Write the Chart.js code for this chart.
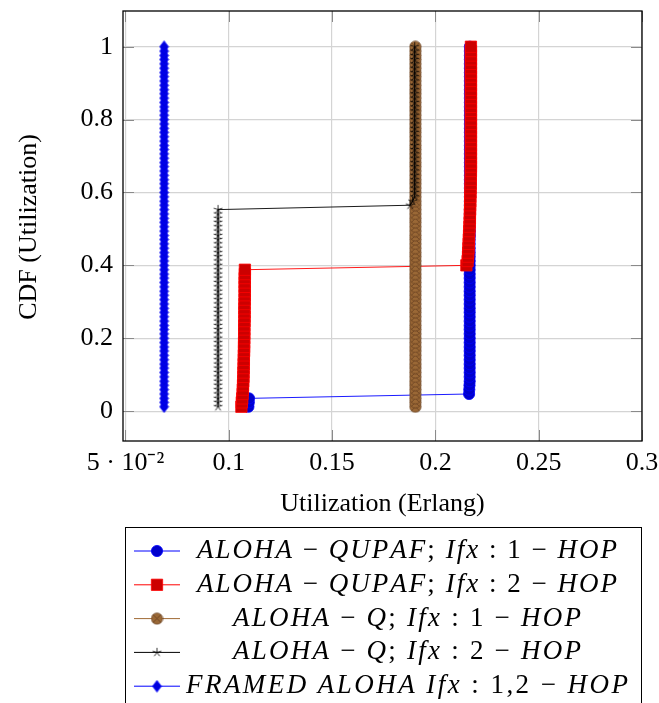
<!DOCTYPE html>
<html>
<head>
<meta charset="utf-8">
<script src="https://cdn.jsdelivr.net/npm/chart.js@4.4.1/dist/chart.umd.min.js"></script>
<style>
  html, body { margin: 0; padding: 0; background: #fff; }
</style>
</head>
<body>
<canvas id="cdfChart" width="659" height="703"></canvas>
<script>
// CDF levels shared by all series (85 samples)
const cdfLevels = [
  0.012, 0.024, 0.035, 0.047, 0.059, 0.071, 0.082, 0.094, 0.106, 0.118,
  0.129, 0.141, 0.153, 0.165, 0.176, 0.188, 0.200, 0.212, 0.224, 0.235,
  0.247, 0.259, 0.271, 0.282, 0.294, 0.306, 0.318, 0.329, 0.341, 0.353,
  0.365, 0.376, 0.388, 0.400, 0.412, 0.424, 0.435, 0.447, 0.459, 0.471,
  0.482, 0.494, 0.506, 0.518, 0.529, 0.541, 0.553, 0.565, 0.576, 0.588,
  0.600, 0.612, 0.624, 0.635, 0.647, 0.659, 0.671, 0.682, 0.694, 0.706,
  0.718, 0.729, 0.741, 0.753, 0.765, 0.776, 0.788, 0.800, 0.812, 0.824,
  0.835, 0.847, 0.859, 0.871, 0.882, 0.894, 0.906, 0.918, 0.929, 0.941,
  0.953, 0.965, 0.976, 0.988, 1.000
];

// utilization (Erlang) per series, one per CDF level
const qupaf1Hop = [
  0.1095, 0.1097, 0.1098, 0.2163, 0.2164, 0.2165, 0.2166, 0.2166, 0.2166, 0.2166,
  0.2166, 0.2166, 0.2166, 0.2166, 0.2166, 0.2166, 0.2166, 0.2166, 0.2166, 0.2166,
  0.2166, 0.2166, 0.2166, 0.2166, 0.2166, 0.2166, 0.2166, 0.2166, 0.2166, 0.2166,
  0.2166, 0.2166, 0.2166, 0.2166, 0.2166, 0.2166, 0.2166, 0.2166, 0.2166, 0.2166,
  0.2167, 0.2167, 0.2167, 0.2167, 0.2167, 0.2167, 0.2167, 0.2167, 0.2167, 0.2167,
  0.2167, 0.2167, 0.2167, 0.2167, 0.2167, 0.2167, 0.2167, 0.2167, 0.2167, 0.2167,
  0.2167, 0.2167, 0.2167, 0.2167, 0.2167, 0.2167, 0.2167, 0.2167, 0.2167, 0.2167,
  0.2167, 0.2167, 0.2167, 0.2167, 0.2167, 0.2167, 0.2167, 0.2167, 0.2167, 0.2167,
  0.2167, 0.2167, 0.2167, 0.2167, 0.2167
];
const qupaf2Hop = [
  0.1061, 0.1063, 0.1065, 0.1067, 0.1068, 0.1069, 0.1070, 0.1071, 0.1071, 0.1072,
  0.1072, 0.1073, 0.1073, 0.1074, 0.1074, 0.1074, 0.1075, 0.1075, 0.1075, 0.1075,
  0.1076, 0.1076, 0.1076, 0.1076, 0.1076, 0.1077, 0.1077, 0.1077, 0.1077, 0.1077,
  0.1077, 0.1078, 0.1078, 0.2150, 0.2156, 0.2158, 0.2159, 0.2160, 0.2161, 0.2162,
  0.2163, 0.2164, 0.2165, 0.2166, 0.2167, 0.2167, 0.2168, 0.2168, 0.2169, 0.2169,
  0.2170, 0.2170, 0.2171, 0.2171, 0.2171, 0.2172, 0.2172, 0.2172, 0.2172, 0.2172,
  0.2172, 0.2172, 0.2172, 0.2172, 0.2172, 0.2172, 0.2172, 0.2172, 0.2172, 0.2172,
  0.2172, 0.2172, 0.2172, 0.2172, 0.2172, 0.2172, 0.2172, 0.2172, 0.2172, 0.2172,
  0.2172, 0.2172, 0.2172, 0.2172, 0.2172
];
const alohaQ1Hop = [
  0.1903, 0.1903, 0.1903, 0.1903, 0.1903, 0.1903, 0.1903, 0.1903, 0.1903, 0.1903,
  0.1903, 0.1903, 0.1903, 0.1903, 0.1903, 0.1903, 0.1903, 0.1903, 0.1903, 0.1903,
  0.1903, 0.1903, 0.1903, 0.1903, 0.1903, 0.1903, 0.1903, 0.1903, 0.1903, 0.1903,
  0.1903, 0.1903, 0.1903, 0.1903, 0.1903, 0.1903, 0.1903, 0.1903, 0.1903, 0.1903,
  0.1903, 0.1903, 0.1903, 0.1903, 0.1903, 0.1903, 0.1903, 0.1903, 0.1903, 0.1903,
  0.1903, 0.1903, 0.1903, 0.1903, 0.1903, 0.1903, 0.1903, 0.1903, 0.1903, 0.1903,
  0.1903, 0.1903, 0.1903, 0.1903, 0.1903, 0.1903, 0.1903, 0.1903, 0.1903, 0.1903,
  0.1903, 0.1903, 0.1903, 0.1903, 0.1903, 0.1903, 0.1903, 0.1903, 0.1903, 0.1903,
  0.1903, 0.1903, 0.1903, 0.1903, 0.1903
];
const alohaQ2Hop = [
  0.0948, 0.0948, 0.0948, 0.0948, 0.0948, 0.0948, 0.0948, 0.0948, 0.0948, 0.0948,
  0.0948, 0.0948, 0.0948, 0.0948, 0.0948, 0.0948, 0.0948, 0.0948, 0.0948, 0.0948,
  0.0948, 0.0948, 0.0948, 0.0948, 0.0948, 0.0948, 0.0948, 0.0948, 0.0948, 0.0948,
  0.0948, 0.0948, 0.0948, 0.0948, 0.0948, 0.0948, 0.0948, 0.0948, 0.0948, 0.0948,
  0.0948, 0.0948, 0.0948, 0.0948, 0.0948, 0.0948, 0.0948, 0.1878, 0.1890, 0.1900,
  0.1900, 0.1900, 0.1900, 0.1900, 0.1900, 0.1900, 0.1900, 0.1900, 0.1900, 0.1900,
  0.1900, 0.1900, 0.1900, 0.1900, 0.1900, 0.1900, 0.1900, 0.1900, 0.1900, 0.1900,
  0.1900, 0.1900, 0.1900, 0.1900, 0.1900, 0.1900, 0.1900, 0.1900, 0.1900, 0.1900,
  0.1900, 0.1900, 0.1900, 0.1900, 0.1900
];
const framedAloha = [
  0.0687, 0.0687, 0.0687, 0.0687, 0.0687, 0.0687, 0.0687, 0.0687, 0.0687, 0.0687,
  0.0687, 0.0687, 0.0687, 0.0687, 0.0687, 0.0687, 0.0687, 0.0687, 0.0687, 0.0687,
  0.0687, 0.0687, 0.0687, 0.0687, 0.0687, 0.0687, 0.0687, 0.0687, 0.0687, 0.0687,
  0.0687, 0.0687, 0.0687, 0.0687, 0.0687, 0.0687, 0.0687, 0.0687, 0.0687, 0.0687,
  0.0687, 0.0687, 0.0687, 0.0687, 0.0687, 0.0687, 0.0687, 0.0687, 0.0687, 0.0687,
  0.0687, 0.0687, 0.0687, 0.0687, 0.0687, 0.0687, 0.0687, 0.0687, 0.0687, 0.0687,
  0.0687, 0.0687, 0.0687, 0.0687, 0.0687, 0.0687, 0.0687, 0.0687, 0.0687, 0.0687,
  0.0687, 0.0687, 0.0687, 0.0687, 0.0687, 0.0687, 0.0687, 0.0687, 0.0687, 0.0687,
  0.0687, 0.0687, 0.0687, 0.0687, 0.0687
];

const seriesLabels = [
  "ALOHA − QUPAF; Ifx : 1 − HOP",
  "ALOHA − QUPAF; Ifx : 2 − HOP",
  "ALOHA − Q; Ifx : 1 − HOP",
  "ALOHA − Q; Ifx : 2 − HOP",
  "FRAMED ALOHA Ifx : 1,2 − HOP"
];

const xTickValues = [0.05, 0.1, 0.15, 0.2, 0.25, 0.3];
const xTickLabels = ["5 · 10⁻²", "0.1", "0.15", "0.2", "0.25", "0.3"];
const yTickValues = [0, 0.2, 0.4, 0.6, 0.8, 1];
const yTickLabels = ["0", "0.2", "0.4", "0.6", "0.8", "1"];

const FONT = "'Liberation Serif', serif";

// small canvases for the pgfplots-like marks
function markerCanvas(w, h, draw) {
    const c = document.createElement('canvas');
    c.width = w;
    c.height = h;
    draw(c.getContext('2d'), w / 2, h / 2);
    return c;
}

const otimesMark = markerCanvas(13, 13, (g, cx, cy) => {
    const r = 5.6;
    g.beginPath();
    g.arc(cx, cy, r, 0, Math.PI * 2);
    g.fillStyle = '#9a6836';
    g.fill();
    g.lineWidth = 0.8;
    g.strokeStyle = '#6a4323';
    g.stroke();
    const d = r * Math.SQRT1_2;
    g.beginPath();
    g.moveTo(cx - d, cy - d); g.lineTo(cx + d, cy + d);
    g.moveTo(cx + d, cy - d); g.lineTo(cx - d, cy + d);
    g.stroke();
});

const starMark = markerCanvas(11, 11, (g, cx, cy) => {
    g.strokeStyle = '#000';
    g.lineWidth = 0.8;
    g.beginPath();
    for (let k = 0; k < 5; k++) {
        const a = -Math.PI / 2 + k * 2 * Math.PI / 5;
        g.moveTo(cx, cy);
        g.lineTo(cx + 4.6 * Math.cos(a), cy + 4.6 * Math.sin(a));
    }
    g.stroke();
});

const diamondMark = markerCanvas(11, 13, (g, cx, cy) => {
    g.beginPath();
    g.moveTo(cx, cy - 5.8);
    g.lineTo(cx + 4.4, cy);
    g.lineTo(cx, cy + 5.8);
    g.lineTo(cx - 4.4, cy);
    g.closePath();
    g.fillStyle = '#0000dd';
    g.fill();
    g.strokeStyle = '#0000ff';
    g.lineWidth = 0.8;
    g.stroke();
});

const toPoints = xs => xs.map((x, i) => ({ x: x, y: cdfLevels[i] }));

const datasets = [
    { data: toPoints(qupaf1Hop), borderColor: '#0000ff', pointStyle: 'circle', pointRadius: 5.6,
      pointBackgroundColor: '#0000cc', pointBorderColor: '#0000ff', order: 5 },
    { data: toPoints(qupaf2Hop), borderColor: '#ff0000', pointStyle: 'rect', pointRadius: 8,
      pointBackgroundColor: '#cc0000', pointBorderColor: '#ff0000', order: 4 },
    { data: toPoints(alohaQ1Hop), borderColor: '#a06a35', pointStyle: otimesMark, pointRadius: 6,
      pointBackgroundColor: '#9a6836', pointBorderColor: '#6a4323', order: 3 },
    { data: toPoints(alohaQ2Hop), borderColor: '#000000', pointStyle: starMark, pointRadius: 5,
      pointBackgroundColor: '#000', pointBorderColor: '#000', order: 2 },
    { data: toPoints(framedAloha), borderColor: '#0000ff', pointStyle: diamondMark, pointRadius: 5,
      pointBackgroundColor: '#0000dd', pointBorderColor: '#0000ff', order: 1 }
].map((d, i) => Object.assign({
    label: seriesLabels[i],
    showLine: true,
    borderWidth: 0.9,
    pointBorderWidth: 0.8,
    tension: 0
}, d));

function drawMark(ctx, ds, x, y) {
    const st = ds.pointStyle;
    if (typeof st !== 'string') {
        ctx.drawImage(st, x - st.width / 2, y - st.height / 2);
        return;
    }
    ctx.fillStyle = ds.pointBackgroundColor;
    ctx.strokeStyle = ds.pointBorderColor;
    ctx.lineWidth = ds.pointBorderWidth;
    ctx.beginPath();
    if (st === 'circle') {
        ctx.arc(x, y, ds.pointRadius, 0, Math.PI * 2);
    } else {
        const s = ds.pointRadius * Math.SQRT1_2;
        ctx.rect(x - s, y - s, 2 * s, 2 * s);
    }
    ctx.fill();
    ctx.stroke();
}

// math-style legend text: letters italic, the rest upright
function drawMathText(ctx, text, cx, cy, targetW) {
    const chars = [];
    for (const ch of text) {
        chars.push({ ch: ch, font: /[A-Za-z]/.test(ch) ? "italic 27px " + FONT : "27px " + FONT });
    }
    let natural = 0;
    chars.forEach(c => { ctx.font = c.font; c.w = ctx.measureText(c.ch).width; natural += c.w; });
    const ls = (targetW - natural) / (chars.length - 1);
    let x = cx - targetW / 2;
    ctx.textAlign = 'left';
    ctx.textBaseline = 'middle';
    ctx.fillStyle = '#000';
    chars.forEach(c => {
        ctx.font = c.font;
        ctx.fillText(c.ch, x, cy);
        x += c.w + ls;
    });
}

const legendWidths = [420, 420, 348, 348, 442];

const framePlugin = {
    id: 'frame',
    afterDraw(chart) {
        const { ctx, chartArea: a, scales: { x, y } } = chart;
        ctx.save();

        // inward tick marks on all four sides
        ctx.strokeStyle = '#8a8a8a';
        ctx.lineWidth = 1;
        ctx.beginPath();
        xTickValues.forEach(v => {
            const px = Math.round(x.getPixelForValue(v)) + 0.5;
            ctx.moveTo(px, a.top); ctx.lineTo(px, a.top + 11);
            ctx.moveTo(px, a.bottom); ctx.lineTo(px, a.bottom - 11);
        });
        yTickValues.forEach(v => {
            const py = Math.round(y.getPixelForValue(v)) + 0.5;
            ctx.moveTo(a.left, py); ctx.lineTo(a.left + 11, py);
            ctx.moveTo(a.right, py); ctx.lineTo(a.right - 11, py);
        });
        ctx.stroke();

        // axis box
        ctx.strokeStyle = '#000';
        ctx.lineWidth = 1.3;
        ctx.strokeRect(a.left, a.top, a.right - a.left, a.bottom - a.top);

        // axis titles
        ctx.fillStyle = '#000';
        ctx.font = "26px " + FONT;
        ctx.textAlign = 'center';
        ctx.textBaseline = 'alphabetic';
        ctx.fillText("Utilization (Erlang)", (a.left + a.right) / 2, 511);
        ctx.save();
        ctx.translate(36, 227);
        ctx.rotate(-Math.PI / 2);
        ctx.fillText("CDF (Utilization)", 0, 0);
        ctx.restore();

        // legend box below the axis
        ctx.strokeStyle = '#000';
        ctx.lineWidth = 1;
        ctx.strokeRect(125.5, 527.5, 516, 200);
        chart.data.datasets.forEach((ds, i) => {
            const ry = 551 + i * 33.8;
            ctx.strokeStyle = ds.borderColor;
            ctx.lineWidth = 1;
            ctx.beginPath();
            ctx.moveTo(134, ry);
            ctx.lineTo(180, ry);
            ctx.stroke();
            drawMark(ctx, ds, 157, ry);
            drawMathText(ctx, ds.label, 407, ry, legendWidths[i]);
        });

        ctx.restore();
    }
};

new Chart("cdfChart", {
    type: "scatter",
    data: { datasets: datasets },
    options: {
        responsive: false,
        animation: false,
        layout: { padding: { left: 0, top: 11, right: 17, bottom: 182 } },
        plugins: {
            legend: { display: false },
            tooltip: { enabled: false }
        },
        scales: {
            x: {
                type: 'linear',
                min: 0.0488,
                max: 0.3,
                afterFit: s => { s.height = 80; s.paddingLeft = 0; s.paddingRight = 0; },
                afterBuildTicks: s => { s.ticks = xTickValues.map(v => ({ value: v })); },
                grid: { color: '#d4d4d4', lineWidth: 1.2, drawTicks: false },
                border: { display: false },
                ticks: {
                    autoSkip: false,
                    maxRotation: 0,
                    padding: 7,
                    color: '#000',
                    font: { family: FONT, size: 26 },
                    callback: (v, i) => xTickLabels[i]
                }
            },
            y: {
                type: 'linear',
                min: -0.082,
                max: 1.098,
                afterFit: s => { s.width = 123; s.paddingTop = 0; s.paddingBottom = 0; },
                afterBuildTicks: s => { s.ticks = yTickValues.map(v => ({ value: v })); },
                grid: { color: '#d4d4d4', lineWidth: 1.2, drawTicks: false },
                border: { display: false },
                ticks: {
                    autoSkip: false,
                    padding: 10,
                    color: '#000',
                    font: { family: FONT, size: 26 },
                    callback: (v, i) => yTickLabels[i]
                }
            }
        }
    },
    plugins: [framePlugin]
});
</script>
</body>
</html>
